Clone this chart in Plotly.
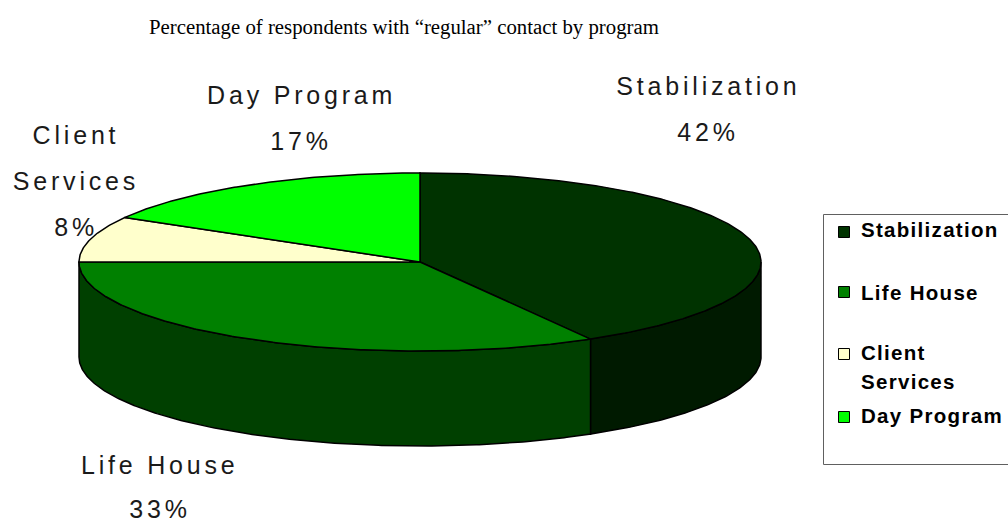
import numpy as np
import plotly.graph_objects as go

# Data: shares of respondents
categories = ["Stabilization", "Life House", "Client Services", "Day Program"]
respondents = [5, 4, 1, 2]
top_colors = ["#003300", "#008000", "#FFFFCC", "#00FF00"]
side_colors = ["#001A00", "#004000", "#808066", "#008000"]
title_text = "Percentage of respondents with “regular” contact by program"

# Label layout: (lines of name, x, y for each line)
label_lines = [["Stabilization"], ["Life House"], ["Client", "Services"], ["Day Program"]]
label_x = [708, 160, 76, 301]
label_y = [86, 465, 135, 95]
label_step = [46, 44, 46, 46]
legend_lines = [["Stabilization"], ["Life House"], ["Client", "Services"], ["Day Program"]]
legend_y = [229, 292, 352, 415]
legend_marker_y = [232, 292, 354, 417]
legend_step = 29

CX, CY, RX, RY, DEPTH = 420, 262, 341, 89, 95
EDGE = dict(color="#000000", width=1.5)


def rim(start, end, drop=0.0):
    t = np.radians(np.linspace(start, end, max(int(abs(end - start)) * 2, 2) + 1))
    return CX + RX * np.sin(t), CY - RY * np.cos(t) + drop


fig = go.Figure()
shares = np.array(respondents, dtype=float) / sum(respondents)
stops = np.concatenate([[0], np.cumsum(shares)]) * 360

# Visible wall of the cylinder (front half only)
for i, name in enumerate(categories):
    a, b = max(stops[i], 90), min(stops[i + 1], 270)
    if a >= b:
        continue
    x1, y1 = rim(a, b)
    x2, y2 = rim(b, a, DEPTH)
    fig.add_trace(go.Scatter(
        x=np.concatenate([x1, x2, x1[:1]]), y=np.concatenate([y1, y2, y1[:1]]),
        mode="lines", fill="toself", fillcolor=side_colors[i], line=EDGE,
        name=name + " side", hoverinfo="skip"))

# Top face
for i, name in enumerate(categories):
    x1, y1 = rim(stops[i], stops[i + 1])
    fig.add_trace(go.Scatter(
        x=np.concatenate([[CX], x1, [CX]]), y=np.concatenate([[CY], y1, [CY]]),
        mode="lines", fill="toself", fillcolor=top_colors[i], line=EDGE,
        name=name, hoverinfo="skip"))

annotations = [dict(x=404, y=27, text=title_text, showarrow=False, xanchor="center", yanchor="middle",
                    font=dict(family="Liberation Serif", size=20.8, color="#000000"))]

# Data labels
for lines, x, y, step, share in zip(label_lines, label_x, label_y, label_step, shares):
    rows = lines + [f"{round(share * 100)}%"]
    for k, row in enumerate(rows):
        annotations.append(dict(x=x, y=y + k * step, text=row, showarrow=False,
                                xanchor="center", yanchor="middle", name="label",
                                font=dict(family="Liberation Sans", size=25, color="#1A1A1A")))

# Legend
shapes = [dict(type="rect", x0=823.5, x1=1010, y0=214.5, y1=464.5,
               line=dict(color="#606060", width=1), fillcolor="#FFFFFF", layer="below")]
fig.add_trace(go.Scatter(
    x=[844] * 4, y=legend_marker_y, mode="markers", hoverinfo="skip", name="legend",
    marker=dict(symbol="square", size=11, color=top_colors, line=dict(color="#000000", width=1))))
for lines, y in zip(legend_lines, legend_y):
    for k, row in enumerate(lines):
        annotations.append(dict(x=859, y=y + k * legend_step, text=row, showarrow=False,
                                xanchor="left", align="left", yanchor="middle", name="legend",
                                font=dict(family="Liberation Sans", size=20.5, color="#000000", weight="bold")))

fig.update_layout(
    width=1008, height=525, margin=dict(l=0, r=0, t=0, b=0),
    paper_bgcolor="#FFFFFF", plot_bgcolor="#FFFFFF", showlegend=False,
    xaxis=dict(range=[0, 1008], visible=False, fixedrange=True),
    yaxis=dict(range=[525, 0], visible=False, fixedrange=True),
    annotations=annotations, shapes=shapes)

post = """
document.body.style.margin = '0';
document.querySelectorAll('.annotation-text').forEach(function (e) {
  var fs = parseFloat(e.style.fontSize);
  var w = e.style.fontWeight;
  if (String(w) === 'bold' || String(w) === '700') { e.style.letterSpacing = '1.3px'; }
  else if (fs > 22 && fs < 30 && e.textContent.indexOf('regular') < 0) { e.style.letterSpacing = '3.8px'; }
});
"""
fig.write_html("out.html", post_script=post, config={"displayModeBar": False})
